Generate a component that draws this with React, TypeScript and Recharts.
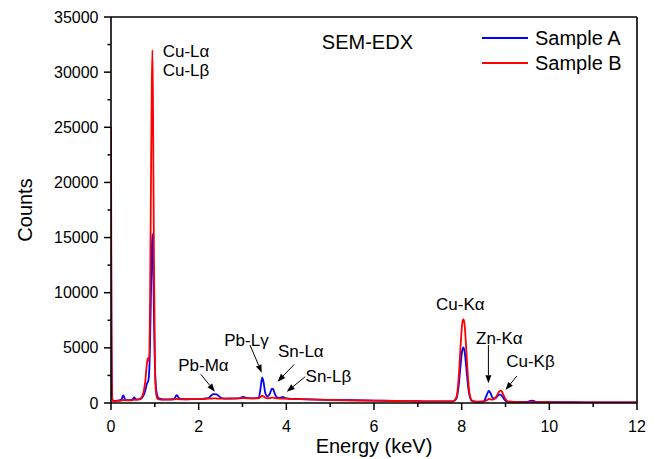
import {
  Legend,
  Line,
  LineChart,
  ReferenceDot,
  ReferenceLine,
  XAxis,
  YAxis,
} from "recharts";

const FONT = '"Liberation Sans", Arial, sans-serif';

// energy axis (keV) and the two spectra
const energy = [
  0, 0.01, 0.02, 0.04, 0.1, 0.18, 0.24, 0.26, 0.28, 0.3, 0.33, 0.42, 0.49,
  0.53, 0.57, 0.64, 0.7, 0.74, 0.78, 0.81, 0.83, 0.85, 0.87, 0.89, 0.91, 0.93,
  0.945, 0.96, 0.98, 1.0, 1.02, 1.05, 1.09, 1.2, 1.35, 1.44, 1.48, 1.5, 1.52,
  1.57, 1.7, 1.9, 2.1, 2.22, 2.28, 2.34, 2.41, 2.47, 2.54, 2.7, 2.9, 2.98,
  3.02, 3.08, 3.2, 3.36, 3.4, 3.43, 3.45, 3.48, 3.52, 3.57, 3.63, 3.67, 3.7,
  3.74, 3.8, 3.86, 3.92, 3.97, 4.05, 4.3, 4.6, 5.0, 5.5, 6.0, 6.5, 7.0, 7.5,
  7.8, 7.88, 7.93, 7.97, 8.01, 8.04, 8.07, 8.11, 8.15, 8.19, 8.24, 8.35, 8.5,
  8.55, 8.59, 8.62, 8.66, 8.71, 8.77, 8.82, 8.86, 8.9, 8.94, 8.99, 9.06, 9.2,
  9.5, 9.57, 9.62, 9.7, 10.0, 10.5, 11.0, 11.5, 12.0,
];

const sampleA = [
  17000, 5000, 800, 220, 200, 230, 320, 560, 700, 540, 270, 260, 320, 500, 330,
  320, 430, 660, 1100, 1600, 1850, 2000, 2700, 5200, 9500, 13800, 15300, 13200,
  7800, 3500, 1700, 750, 420, 320, 330, 380, 620, 720, 620, 380, 340, 350, 380,
  440, 650, 800, 780, 600, 420, 400, 420, 520, 560, 460, 420, 460, 1000, 1900,
  2300, 1900, 900, 600, 900, 1300, 1250, 800, 480, 470, 560, 450, 400, 360,
  320, 280, 250, 220, 190, 160, 140, 140, 400, 1500, 3200, 4700, 5050, 4600,
  3000, 1400, 500, 170, 110, 150, 500, 900, 1100, 880, 450, 420, 650, 760, 720,
  520, 250, 110, 90, 100, 200, 220, 110, 80, 70, 60, 55, 50,
];

const sampleB = [
  25000, 8000, 1000, 180, 170, 200, 220, 250, 270, 260, 240, 240, 260, 300, 280,
  320, 520, 950, 1900, 3200, 3900, 4100, 3800, 9000, 19000, 28500, 32000, 26000,
  13000, 4500, 1300, 450, 320, 300, 310, 320, 360, 380, 360, 330, 340, 360, 380,
  390, 400, 420, 410, 400, 400, 410, 420, 430, 440, 430, 420, 430, 500, 620,
  660, 600, 480, 430, 450, 490, 480, 440, 410, 400, 410, 400, 380, 350, 310,
  270, 240, 210, 180, 160, 140, 150, 500, 2200, 4800, 7100, 7600, 7000, 4500,
  2000, 650, 220, 120, 120, 200, 300, 380, 330, 300, 450, 800, 1050, 1120, 850,
  420, 150, 100, 80, 90, 90, 80, 70, 60, 55, 50, 45,
];

const xTicks = [0, 1, 2, 3, 4, 5, 6, 7, 8, 9, 10, 11, 12];
const yTicks = [
  0, 2500, 5000, 7500, 10000, 12500, 15000, 17500, 20000, 22500, 25000, 27500,
  30000, 32500, 35000,
];

const series = [
  { key: "a", name: "Sample A", color: "#0000ff" },
  { key: "b", name: "Sample B", color: "#ff0000" },
];

// peak labels, in data coordinates
const peakLabels = [
  { text: "Cu-L\u03b1", x: 1.18, y: 31850, anchor: "start" },
  { text: "Cu-L\u03b2", x: 1.18, y: 30130, anchor: "start" },
  { text: "Pb-M\u03b1", x: 2.11, y: 3445, anchor: "middle" },
  { text: "Pb-L\u03b3", x: 3.09, y: 5710, anchor: "middle" },
  { text: "Sn-L\u03b1", x: 4.33, y: 4650, anchor: "middle" },
  { text: "Sn-L\u03b2", x: 4.96, y: 2385, anchor: "middle" },
  { text: "Cu-K\u03b1", x: 7.97, y: 8890, anchor: "middle" },
  { text: "Zn-K\u03b1", x: 8.86, y: 5860, anchor: "middle" },
  { text: "Cu-K\u03b2", x: 9.57, y: 3750, anchor: "middle" },
];

const arrows = [
  [2.05, 2600, 2.37, 1025],
  [3.17, 5260, 3.44, 2750],
  [4.18, 3500, 3.8, 1930],
  [4.43, 2385, 4.01, 1025],
  [8.61, 5260, 8.61, 1790],
  [9.26, 2450, 9.0, 1180],
];

const data = energy.map((e, i) => ({ energy: e, a: sampleA[i], b: sampleB[i] }));

function XTick(props: any) {
  const { x, y, payload } = props;
  const major = payload.value % 2 === 0;
  return (
    <g>
      <line x1={x} x2={x} y1={y} y2={y + (major ? 7 : 4)} stroke="#000" strokeWidth={1.5} />
      {major && (
        <text x={x} y={y + 23} textAnchor="middle" dominantBaseline="central" fontSize={16} fontFamily={FONT} fill="#000">
          {payload.value}
        </text>
      )}
    </g>
  );
}

function YTick(props: any) {
  const { x, y, payload } = props;
  const major = payload.value % 5000 === 0;
  return (
    <g>
      <line x1={x - (major ? 7 : 3.5)} x2={x} y1={y} y2={y} stroke="#000" strokeWidth={1.5} />
      {major && (
        <text x={x - 12.5} y={y} textAnchor="end" dominantBaseline="central" fontSize={16} fontFamily={FONT} fill="#000">
          {payload.value}
        </text>
      )}
    </g>
  );
}

function Arrow(props: any) {
  const { x1, y1, x2, y2 } = props;
  const ang = Math.atan2(y2 - y1, x2 - x1);
  const len = 8;
  const w = 3;
  const bx = x2 - len * Math.cos(ang);
  const by = y2 - len * Math.sin(ang);
  const px = -Math.sin(ang) * w;
  const py = Math.cos(ang) * w;
  return (
    <g>
      <line x1={x1} y1={y1} x2={bx} y2={by} stroke="#000" strokeWidth={1} />
      <polygon points={`${x2},${y2} ${bx + px},${by + py} ${bx - px},${by - py}`} fill="#000" />
    </g>
  );
}

function LegendBox() {
  return (
    <div style={{ fontFamily: FONT, fontSize: 20, color: "#000" }}>
      {series.map((s) => (
        <div key={s.key} style={{ display: "flex", alignItems: "center", height: 25 }}>
          <span style={{ display: "inline-block", width: 46, height: 2, background: s.color, marginRight: 7 }} />
          <span>{s.name}</span>
        </div>
      ))}
    </div>
  );
}

export default function App() {
  return (
    <div style={{ position: "absolute", left: 0, top: 0, background: "#fff" }}>
      <LineChart width={657} height={459} data={data} margin={{ top: 17, right: 20, bottom: 0, left: 0 }}>
        <XAxis
          dataKey="energy"
          type="number"
          domain={[0, 12]}
          ticks={xTicks}
          interval={0}
          allowDataOverflow
          height={56}
          tickSize={0}
          tickMargin={0}
          tickLine={false}
          axisLine={{ stroke: "#000", strokeWidth: 1.6 }}
          tick={<XTick />}
          label={{
            content: (p: any) => (
              <text
                x={p.viewBox.x + p.viewBox.width / 2}
                y={p.viewBox.y + 43}
                textAnchor="middle"
                dominantBaseline="central"
                fontSize={20}
                fontFamily={FONT}
                fill="#000"
              >
                Energy (keV)
              </text>
            ),
          }}
        />
        <YAxis
          type="number"
          domain={[0, 35000]}
          ticks={yTicks}
          interval={0}
          allowDataOverflow
          width={111}
          tickSize={0}
          tickMargin={0}
          tickLine={false}
          axisLine={{ stroke: "#000", strokeWidth: 1.6 }}
          tick={<YTick />}
          label={{
            content: (p: any) => {
              const cx = p.viewBox.x + 25;
              const cy = p.viewBox.y + p.viewBox.height / 2;
              return (
                <text
                  x={cx}
                  y={cy}
                  transform={`rotate(-90 ${cx} ${cy})`}
                  textAnchor="middle"
                  dominantBaseline="central"
                  fontSize={20}
                  fontFamily={FONT}
                  fill="#000"
                >
                  Counts
                </text>
              );
            },
          }}
        />
        <ReferenceLine y={35000} stroke="#000" strokeWidth={1.6} />
        <ReferenceLine x={12} stroke="#000" strokeWidth={1.6} />
        {series.map((s) => (
          <Line
            key={s.key}
            type="monotone"
            dataKey={s.key}
            name={s.name}
            stroke={s.color}
            strokeWidth={1.8}
            dot={false}
            isAnimationActive={false}
          />
        ))}
        {arrows.map((a, i) => (
          <ReferenceLine
            key={`arrow-${i}`}
            segment={[
              { x: a[0], y: a[1] },
              { x: a[2], y: a[3] },
            ]}
            shape={<Arrow />}
          />
        ))}
        {peakLabels.map((l) => (
          <ReferenceDot
            key={l.text}
            x={l.x}
            y={l.y}
            r={0}
            shape={(p: any) => (
              <text
                x={p.cx}
                y={p.cy}
                textAnchor={l.anchor as any}
                dominantBaseline="central"
                fontSize={17}
                fontFamily={FONT}
                fill="#000"
              >
                {l.text}
              </text>
            )}
          />
        ))}
        <ReferenceDot
          x={5.85}
          y={32760}
          r={0}
          shape={(p: any) => (
            <text x={p.cx} y={p.cy} textAnchor="middle" dominantBaseline="central" fontSize={20} fontFamily={FONT} fill="#000">
              SEM-EDX
            </text>
          )}
        />
        <Legend
          layout="vertical"
          align="center"
          verticalAlign="middle"
          content={<LegendBox />}
          wrapperStyle={{ left: 482, top: 25.5, width: 160 }}
        />
      </LineChart>
    </div>
  );
}
